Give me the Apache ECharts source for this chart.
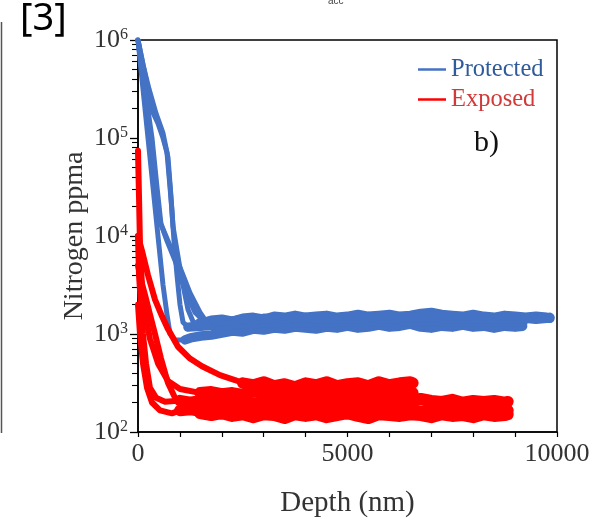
<!DOCTYPE html>
<html><head><meta charset="utf-8">
<script src="https://cdn.jsdelivr.net/npm/echarts@6/dist/echarts.min.js"></script>
<style>html,body{margin:0;padding:0;background:#fff}#c{width:595px;height:523px}</style>
</head><body><div id="c"></div>
<script>
// ---------- data (depth nm, nitrogen ppma) ----------
const xTickLabels = [0, 5000, 10000];

// Protected (blue)
const protectedDropA = [[0,1000000],[119,316000],[239,100000],[358,31600],[477,10000],[597,3160],[692,1580],[764,1000],[883,871],[1122,871]];
const protectedBandA = [[1122,871],[1250,912],[1500,955],[1750,977],[2000,1023],[2250,1072],[2500,1047],[2750,1122],[3000,1096],[3250,1148],[3500,1122],[3750,1175],[4000,1148],[4250,1122],[4500,1175],[4750,1148],[5000,1202],[5250,1148],[5500,1175],[5750,1230],[6000,1175],[6250,1202],[6500,1259],[6750,1175],[7000,1148],[7250,1202],[7500,1175],[7750,1230],[8000,1175],[8250,1202],[8500,1148],[8750,1202],[9000,1175],[9180,1202]];
const protectedDropB = [[0,1000000],[143,316000],[310,100000],[430,31600],[525,14100],[692,8910],[883,5620],[1122,2820],[1360,1660],[1600,1318]];
const protectedBandB = [[1600,1318],[1750,1380],[2000,1413],[2250,1349],[2500,1445],[2750,1479],[3000,1413],[3250,1514],[3500,1479],[3750,1549],[4000,1479],[4250,1514],[4500,1549],[4750,1479],[5000,1514],[5250,1585],[5500,1514],[5750,1549],[6000,1585],[6250,1514],[6500,1549],[6750,1622],[7000,1660],[7250,1585],[7500,1549],[7750,1514],[8000,1585],[8250,1514],[8500,1479],[8750,1549],[9000,1514],[9250,1479],[9500,1514],[9750,1479],[9830,1445]];
const protectedDropC = [[0,1000000],[95,631000],[215,355000],[334,191000],[477,141000],[597,100000],[692,70800],[764,31600],[811,17800],[859,8910],[931,3980],[1002,1995],[1074,1318],[1193,1175]];
const protectedBandC = [[1193,1175],[1500,1202],[1750,1230],[2000,1259],[2250,1230],[2500,1288],[2750,1259],[3000,1318],[3250,1288],[3500,1349],[3750,1288],[4000,1318],[4250,1349],[4500,1288],[4750,1318],[5000,1349],[5250,1318],[5500,1380],[5750,1318],[6000,1349],[6250,1380],[6500,1318],[6750,1349],[7000,1380],[7250,1318],[7500,1349],[7750,1318],[8000,1349],[8250,1318],[8500,1349],[8750,1318],[9000,1349],[9190,1318]];
const protectedDropD = [[0,1000000],[119,562000],[263,316000],[430,178000],[597,112000],[716,63100],[788,25100],[835,12600],[931,7080],[1050,3550],[1193,1778],[1360,1202]];
const protectedBandD = [[1360,1202],[1500,1318],[1750,1349],[2000,1380],[2250,1349],[2500,1413],[2750,1380],[3000,1445],[3250,1413],[3500,1445],[3750,1413],[4000,1479],[4250,1413],[4500,1445],[4750,1413],[5000,1445],[5250,1413],[5500,1479],[5750,1445],[6000,1413],[6250,1445],[6500,1479],[6750,1445],[7000,1514],[7250,1445],[7500,1413],[7750,1445],[8000,1413],[8250,1445],[8500,1413],[8750,1445],[9000,1413],[9250,1445],[9500,1413],[9750,1445],[9830,1479]];
const protectedDropE = [[0,1000000],[167,316000],[334,100000],[453,31600],[549,13200],[764,7940],[1002,4790],[1241,2630],[1480,1660],[1671,1259],[1838,1096],[2100,1150],[2400,1200]];

// Exposed (red)
const exposedDropA = [[0,10000],[95,7080],[239,3980],[406,2240],[573,1514],[716,1122],[955,741],[1241,562],[1527,468],[1957,380],[2315,339],[2500,316]];
const exposedBandA = [[2500,316],[2750,302],[3000,324],[3250,295],[3500,309],[3750,288],[4000,316],[4250,302],[4500,324],[4750,295],[5000,309],[5250,316],[5500,295],[5750,324],[6000,302],[6250,316],[6500,324],[6560,316]];
const exposedDropB = [[0,74100],[24,25100],[48,7940],[95,3160],[167,1585],[286,891],[477,501],[716,331],[1002,275],[1480,251]];
const exposedBandB = [[1480,251],[1750,257],[2000,245],[2250,251],[2500,240],[2750,257],[3000,251],[3250,245],[3500,257],[3750,251],[4000,240],[4250,251],[4500,257],[4750,245],[5000,251],[5250,240],[5500,251],[5750,257],[6000,245],[6250,251],[6500,245],[6560,251]];
const exposedDropC = [[0,10000],[24,3980],[72,1995],[119,1000],[191,501],[286,282],[430,224],[644,204],[1000,209]];
const exposedBandC = [[1000,209],[1250,200],[1500,209],[1750,204],[2000,214],[2250,200],[2500,209],[2750,195],[3000,204],[3250,209],[3500,200],[3750,214],[4000,204],[4250,195],[4500,209],[4750,204],[5000,200],[5250,209],[5500,195],[5750,204],[6000,209],[6250,200],[6500,204],[6750,219],[7000,209],[7250,204],[7500,214],[7750,200],[8000,209],[8250,204],[8500,209],[8750,200],[8830,204]];
const exposedDropD = [[0,1995],[48,1000],[119,501],[215,282],[334,200],[525,166],[811,155],[1000,166]];
const exposedBandD = [[1000,166],[1250,170],[1500,162],[1750,174],[2000,166],[2250,170],[2500,162],[2750,170],[3000,174],[3250,166],[3500,162],[3750,170],[4000,166],[4250,174],[4500,162],[4750,170],[5000,166],[5250,162],[5500,170],[5750,166],[6000,174],[6250,166],[6500,170],[6750,162],[7000,170],[7250,166],[7500,162],[7750,170],[8000,166],[8250,174],[8500,166],[8750,170],[8830,166]];
const exposedDropE = [[0,5010],[72,3550],[167,2510],[286,1585],[406,1000],[549,562],[716,316],[883,224],[1122,178],[1480,155]];
const exposedBandE = [[1480,155],[1750,148],[2000,155],[2250,145],[2500,151],[2750,141],[3000,151],[3250,148],[3500,138],[3750,151],[4000,145],[4250,151],[4500,141],[4750,148],[5000,155],[5250,145],[5500,138],[5750,151],[6000,148],[6250,145],[6500,151],[6750,148],[7000,141],[7250,151],[7500,145],[7750,148],[8000,141],[8250,151],[8500,145],[8750,148],[8830,151]];

// ---------- chart ----------
const BLUE = '#4472C4', RED = '#FF0000';
const SERIF = '"Liberation Serif", "DejaVu Serif", serif';
function ln(name, data, color, width) {
  return { type: 'line', name: name, data: data, showSymbol: false, symbol: 'none', silent: true,
    itemStyle: { color: color }, lineStyle: { color: color, width: width, cap: 'round', join: 'round' } };
}
const BD = 5, BB = 9.5, RD = 6, RB = 11.5;
const series = [
  ln('Protected', protectedDropA, BLUE, BD), ln('Protected', protectedBandA, BLUE, BB),
  ln('Protected', protectedDropB, BLUE, BD), ln('Protected', protectedBandB, BLUE, BB),
  ln('Protected', protectedDropC, BLUE, BD), ln('Protected', protectedBandC, BLUE, BB),
  ln('Protected', protectedDropD, BLUE, BD), ln('Protected', protectedBandD, BLUE, BB),
  ln('Protected', protectedDropE, BLUE, BD),
  ln('Exposed', exposedDropA, RED, RD), ln('Exposed', exposedBandA, RED, RB),
  ln('Exposed', exposedDropB, RED, RD), ln('Exposed', exposedBandB, RED, RB),
  ln('Exposed', exposedDropC, RED, RD), ln('Exposed', exposedBandC, RED, RB),
  ln('Exposed', exposedDropD, RED, RD), ln('Exposed', exposedBandD, RED, RB),
  ln('Exposed', exposedDropE, RED, RD), ln('Exposed', exposedBandE, RED, RB)
];

const chart = echarts.init(document.getElementById('c'), null, { renderer: 'canvas' });
chart.setOption({
  animation: false,
  backgroundColor: '#fff',
  grid: { left: 138, right: 38, top: 40, bottom: 83, show: true, borderColor: '#000', borderWidth: 1.5 },
  legend: {
    data: [{ name: 'Protected', textStyle: { color: '#2f5b9b' } }, { name: 'Exposed', textStyle: { color: '#d03a3a' } }],
    orient: 'vertical', left: 413, top: 52, itemWidth: 28, itemHeight: 2.5, icon: 'rect', itemGap: 5,
    textStyle: { fontFamily: SERIF, fontSize: 24.5 }, selectedMode: false
  },
  xAxis: {
    type: 'value', min: 0, max: 10000, interval: 1000,
    axisLine: { lineStyle: { color: '#000', width: 1.5 } },
    axisTick: { length: 5, lineStyle: { color: '#000', width: 1.2 } },
    splitLine: { show: false },
    axisLabel: { formatter: v => (xTickLabels.indexOf(v) >= 0 ? String(v) : ''), fontFamily: SERIF, fontSize: 26, color: '#333', margin: 9 },
    name: 'Depth (nm)', nameLocation: 'middle', nameGap: 57,
    nameTextStyle: { fontFamily: SERIF, fontSize: 29, color: '#333' }
  },
  yAxis: {
    type: 'log', logBase: 10, min: 100, max: 1000000,
    axisLine: { lineStyle: { color: '#000', width: 1.5 } },
    axisTick: { length: 8, lineStyle: { color: '#000', width: 1.3 } },
    minorTick: { show: true, splitNumber: 9, length: 6, lineStyle: { color: '#000', width: 1.1 } },
    splitLine: { show: false },
    minorSplitLine: { show: false },
    axisLabel: {
      margin: 10, color: '#333',
      formatter: v => '{b|10}{s|' + Math.round(Math.log10(v)) + '}',
      rich: { b: { fontFamily: SERIF, fontSize: 26, color: '#333' }, s: { fontFamily: SERIF, fontSize: 16, color: '#333', verticalAlign: 'top' } }
    }
  },
  graphic: [
    { type: 'text', left: 20, top: 0, style: { text: '[3]', font: '38px "Noto Sans", sans-serif', fill: '#000' } },
    { type: 'text', x: 328, y: -4, style: { text: 'acc', font: '10px "Liberation Sans", sans-serif', fill: '#444' } },
    { type: 'line', shape: { x1: 1.5, y1: 22, x2: 1.5, y2: 433 }, style: { stroke: '#555', lineWidth: 1.5 } },
    { type: 'text', x: 75, y: 236, rotation: Math.PI / 2,
      style: { text: 'Nitrogen ppma', font: '28px ' + SERIF, fill: '#333', align: 'center', verticalAlign: 'middle' } },
    { type: 'text', x: 474, y: 128, style: { text: 'b)', font: '30px ' + SERIF, fill: '#111' } }
  ],
  series: series
});
</script></body></html>
